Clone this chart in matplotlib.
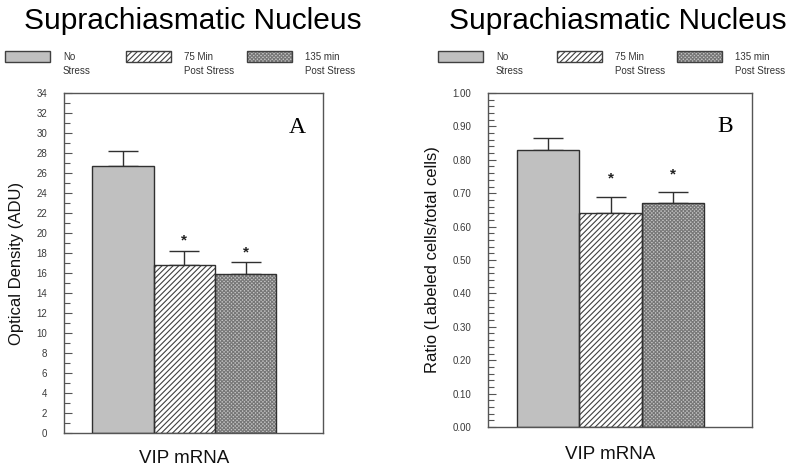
import matplotlib.pyplot as plt
from matplotlib.patches import Rectangle
from matplotlib.ticker import MultipleLocator

plt.rcParams['font.family'] = ['Liberation Sans', 'DejaVu Sans']
plt.rcParams['hatch.linewidth'] = 0.8

# данные
groups = ['No\nStress', '75 Min\nPost Stress', '135 min\nPost Stress']
od_mean = [26.7, 16.8, 15.9]
od_err = [1.5, 1.4, 1.2]
od_star = [None, 19.3, 18.1]
ratio_mean = [0.83, 0.64, 0.67]
ratio_err = [0.035, 0.048, 0.033]
ratio_star = [None, 0.745, 0.755]

faces = ['#c0c0c0', '#ffffff', '#c4c4c4']
hatches = [None, '//////', 'xxxxxxxxx']
hatch_cols = ['#404040', '#404040', '#777777']

W, H = 800, 468
fig = plt.figure(figsize=(8, 4.68), dpi=100)


def px(x, y, w, h):
    return [x / W, 1 - (y + h) / H, w / W, h / H]


def panel(rect, means, errs, stars, ymax, major, minor, fmt, ylabel, letter, xl_pad):
    ax = fig.add_axes(rect)
    x = [0, 1, 2]
    for i in range(3):
        ax.bar(x[i], means[i], width=1.0, color=faces[i], edgecolor=hatch_cols[i],
               hatch=hatches[i], linewidth=0, zorder=2)
        ax.bar(x[i], means[i], width=1.0, color='none', edgecolor='#303030',
               linewidth=1.0, zorder=3)
    ax.errorbar(x, means, yerr=[[0, 0, 0], errs], fmt='none', ecolor='#303030',
                elinewidth=1.0, capsize=11, capthick=1.0, zorder=1)
    for i in range(3):
        if stars[i] is not None:
            ax.text(x[i], stars[i], '*', ha='center', va='center', fontsize=11,
                    fontweight='bold', color='#222222')
    ax.set_xlim(-0.96, 3.26)
    ax.set_ylim(0, ymax)
    ax.yaxis.set_major_locator(MultipleLocator(major))
    ax.yaxis.set_minor_locator(MultipleLocator(minor))
    ax.yaxis.set_major_formatter(fmt)
    ax.tick_params(axis='y', which='major', direction='in', length=6, width=0.8,
                   color='#555555', labelsize=7, labelcolor='#3a3a3a', pad=12)
    ax.tick_params(axis='y', which='minor', direction='in', length=4, width=0.8,
                   color='#555555')
    ax.set_xticks([1])
    ax.set_xticklabels(['VIP mRNA'])
    ax.tick_params(axis='x', length=0, labelsize=13.5, pad=xl_pad, labelcolor='#111111')
    for s in ax.spines.values():
        s.set_color('#555555')
        s.set_linewidth(1.0)
    ax.set_ylabel(ylabel, fontsize=12, color='#111111')
    ax.text(0.9, 0.9, letter, transform=ax.transAxes, fontsize=17,
            family='Liberation Serif', ha='center', va='center')
    return ax


ax1 = panel(px(64, 93, 259, 340), od_mean, od_err, od_star, 34, 2, 1,
            '{x:.0f}', 'Optical Density (ADU)', 'A', 12)
ax1.yaxis.set_label_coords(-0.155, 0.5)
ax2 = panel(px(488, 93, 264, 334), ratio_mean, ratio_err, ratio_star, 1.0, 0.1, 0.02,
            '{x:.2f}', 'Ratio (Labeled cells/total cells)', 'B', 14)
ax2.yaxis.set_label_coords(-0.18, 0.5)

# заголовки
fig.text(193 / W, 1 - 29 / H, 'Suprachiasmatic Nucleus', ha='center', va='baseline',
         fontsize=21.5)
fig.text(618 / W, 1 - 29 / H, 'Suprachiasmatic Nucleus', ha='center', va='baseline',
         fontsize=21.5)

# легенды
def legend(xs):
    for i in range(3):
        bx = xs[i]
        fig.patches.append(Rectangle((bx / W, 1 - 62 / H), 45 / W, 11 / H,
                                     transform=fig.transFigure, facecolor=faces[i],
                                     edgecolor=hatch_cols[i], hatch=hatches[i],
                                     linewidth=0))
        fig.patches.append(Rectangle((bx / W, 1 - 62 / H), 45 / W, 11 / H,
                                     transform=fig.transFigure, facecolor='none',
                                     edgecolor='#404040', linewidth=1.0))
        fig.text((bx + 58) / W, 1 - 52 / H, groups[i], ha='left', va='top',
                 fontsize=7, color='#333333', linespacing=1.45)


legend([5, 126, 247])
legend([438, 557, 677])

fig.savefig('out.png', dpi=100)
